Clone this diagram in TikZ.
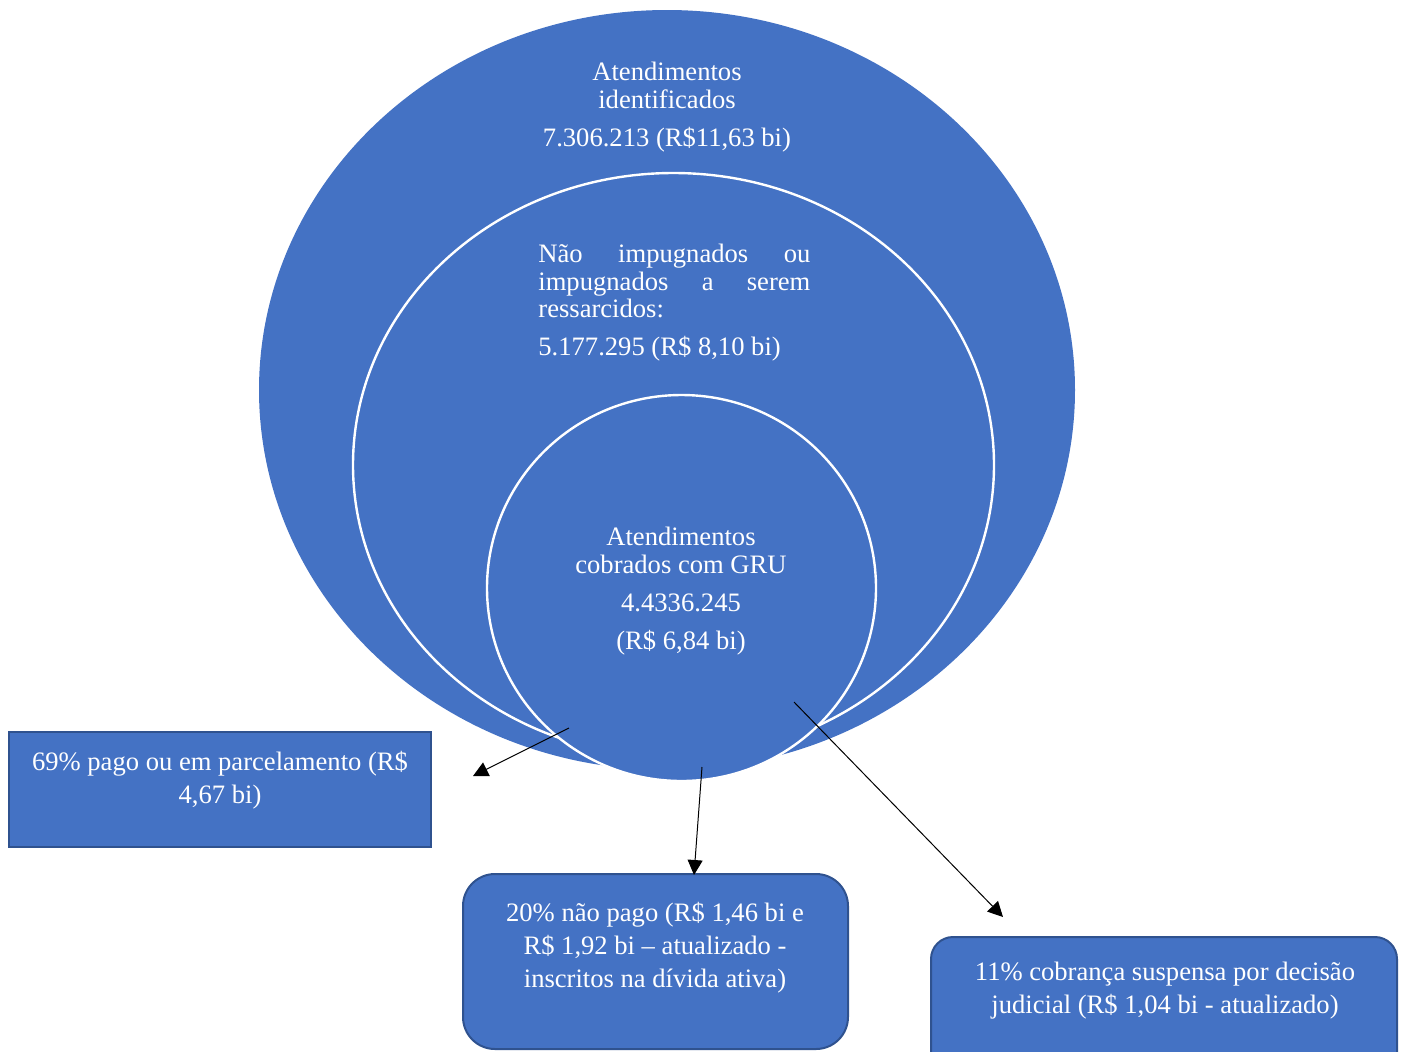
\documentclass[tikz,border=0pt]{standalone}
\usepackage{fontspec}
\setmainfont{Liberation Serif}
\usetikzlibrary{shapes.geometric,arrows.meta}
\definecolor{accblue}{HTML}{4472C4}
\definecolor{accborder}{HTML}{2F528F}
\begin{document}
\begin{tikzpicture}[x=0.5pt,y=-0.5pt,
  blob/.style={ellipse, fill=accblue, inner sep=0pt},
  ring/.style={blob, draw=white, line width=1.2pt},
  txt/.style={text=white, font=\fontsize{13.3}{13.6}\selectfont, inner sep=0pt, align=center},
  boxtxt/.style={txt, font=\fontsize{13.3}{16.5}\selectfont},
  panel/.style={fill=accblue, draw=accborder, line width=1pt, inner sep=0pt},
  arr/.style={-{Triangle[length=7.5pt,width=7.5pt]}, line width=0.5pt, black}]
\clip (0,0) rectangle (1404,1051);
\useasboundingbox (0,0) rectangle (1404,1051);

% nested sets
\node[blob, minimum width=408pt, minimum height=380pt] (outer) at (667,390) {};
\node[ring, minimum width=320.5pt, minimum height=292pt] (middle) at (673.5,465) {};
\node[ring, minimum width=194.5pt, minimum height=193pt] (inner) at (681.5,588) {};

\node[txt, anchor=north] (t1) at (667,62)
  {Atendimentos\\identificados\\[5.5pt]7.306.213 (R\$11,63 bi)};
\node[txt, align=left, anchor=north west] (t2) at (538,244)
  {\makebox[136pt][s]{Não\hfill impugnados\hfill ou}\\
   \makebox[136pt][s]{impugnados\hfill a\hfill serem}\\
   ressarcidos:\\[5.5pt]
   5.177.295 (R\$ 8,10 bi)};
\node[txt, anchor=north] (t3) at (681,527)
  {Atendimentos\\cobrados com GRU\\[5.5pt]4.4336.245\\[5.5pt](R\$ 6,84 bi)};

% result boxes
\node[panel, minimum width=211pt, minimum height=57.5pt] (b1) at (220,789.5) {};
\node[boxtxt, anchor=north] (t4) at (220,751)
  {69\%\ pago ou em parcelamento (R\$\\4,67 bi)};

\node[panel, rounded corners=16pt, minimum width=192.5pt, minimum height=87.5pt] (b2) at (655.5,961.5) {};
\node[boxtxt, anchor=north] (t5) at (655,902)
  {20\%\ não pago (R\$ 1,46 bi e\\R\$ 1,92 bi – atualizado -\\inscritos na dívida ativa)};

\node[panel, rounded corners=11pt, minimum width=233pt, minimum height=70pt] (b3) at (1164,1007) {};
\node[boxtxt, anchor=north] (t6) at (1165,962)
  {11\% cobrança suspensa por decisão\\judicial (R\$ 1,04 bi - atualizado)};

% arrows
\coordinate (a1s) at (569,728);
\coordinate (a1e) at (473,776);
\coordinate (a2s) at (702,767);
\coordinate (a2e) at (694,875);
\coordinate (a3s) at (794,702);
\coordinate (a3e) at (1003,917);
\draw[arr] (a1s) -- (a1e);
\draw[arr] (a2s) -- (a2e);
\draw[arr] (a3s) -- (a3e);
\end{tikzpicture}
\end{document}
